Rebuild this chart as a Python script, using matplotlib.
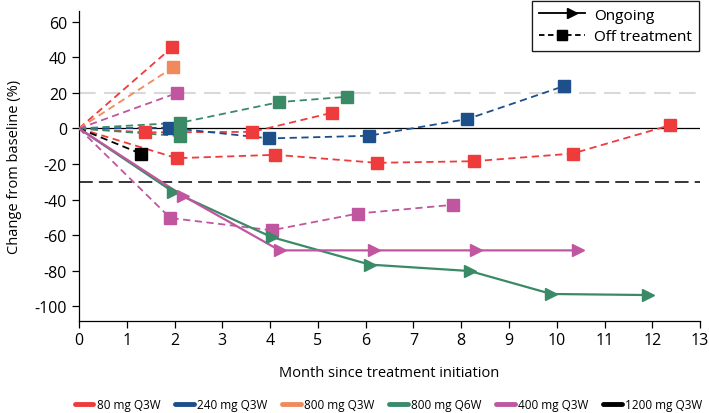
import numpy as np
from matplotlib import pyplot as plt
from matplotlib.lines import Line2D
from matplotlib.legend_handler import HandlerLine2D

plt.rcParams['font.family'] = ['Open Sans', 'DejaVu Sans']

# colours per dose group
colors = {
    '80 mg Q3W': '#EE3B3B',
    '240 mg Q3W': '#1D4F8B',
    '800 mg Q3W': '#F08A5D',
    '800 mg Q6W': '#3A8A68',
    '400 mg Q3W': '#C0569F',
    '1200 mg Q3W': '#000000',
}

# off-treatment patients (dashed, square at last point)
off_80a_x = [0, 1.95]
off_80a_y = [0, 45.6]
off_80b_x = [0, 1.39, 3.63, 5.29]
off_80b_y = [0, -2.2, -1.9, 8.8]
off_80c_x = [0, 2.05, 4.11, 6.23, 8.26, 10.33, 12.38]
off_80c_y = [0, -16.7, -14.8, -19.3, -18.4, -14.1, 1.9]
off_240_x = [0, 1.88, 3.98, 6.06, 8.13, 10.15]
off_240_y = [0, 0.4, -5.6, -4.1, 5.3, 23.8]
off_800q3_x = [0, 1.97]
off_800q3_y = [0, 34.3]
off_800q6a_x = [0, 2.12, 4.19, 5.6]
off_800q6a_y = [0, 3.2, 14.8, 17.8]
off_800q6b_x = [0, 2.12]
off_800q6b_y = [0, -4.3]
off_400a_x = [0, 2.05]
off_400a_y = [0, 19.9]
off_400b_x = [0, 1.91, 4.03, 5.84, 7.83]
off_400b_y = [0, -50.3, -57.2, -47.8, -42.9]
off_1200_x = [0, 1.29]
off_1200_y = [0, -14.1]

# ongoing patients (solid, arrows)
on_800q6_x = [0, 1.97, 4.03, 6.09, 8.18, 9.89, 11.91]
on_800q6_y = [0, -35.6, -61.0, -76.5, -80.1, -93.0, -93.6]
on_400_x = [0, 2.18, 4.2, 6.17, 8.3, 10.45]
on_400_y = [0, -37.9, -68.5, -68.5, -68.5, -68.5]

off_series = [
    (off_80a_x, off_80a_y, '80 mg Q3W'),
    (off_80b_x, off_80b_y, '80 mg Q3W'),
    (off_80c_x, off_80c_y, '80 mg Q3W'),
    (off_240_x, off_240_y, '240 mg Q3W'),
    (off_800q3_x, off_800q3_y, '800 mg Q3W'),
    (off_800q6a_x, off_800q6a_y, '800 mg Q6W'),
    (off_800q6b_x, off_800q6b_y, '800 mg Q6W'),
    (off_400a_x, off_400a_y, '400 mg Q3W'),
    (off_400b_x, off_400b_y, '400 mg Q3W'),
    (off_1200_x, off_1200_y, '1200 mg Q3W'),
]
on_series = [
    (on_800q6_x, on_800q6_y, '800 mg Q6W'),
    (on_400_x, on_400_y, '400 mg Q3W'),
]


class ArrowEndHandler(HandlerLine2D):
    # legend handle with the triangle near the right end of the line
    def create_artists(self, legend, orig_handle, xdescent, ydescent,
                       width, height, fontsize, trans):
        y = height / 2 - ydescent
        line = Line2D([-xdescent, width - xdescent], [y, y], color='black', lw=1.3)
        tip = Line2D([width * 0.72 - xdescent], [y], ls='none', marker='>',
                     ms=7, color='black')
        line.set_transform(trans)
        tip.set_transform(trans)
        return [line, tip]


fig = plt.figure(figsize=(7.09, 4.14), dpi=100)
ax = fig.add_axes([0.1114, 0.223, 0.876, 0.748])

# reference lines
ax.axhline(20, color='#D9D9D9', lw=1.5, dashes=(8, 4), zorder=1)
ax.axhline(0, color='black', lw=0.9, zorder=1)
ax.axhline(-30, color='black', lw=1.1, dashes=(9, 4), zorder=1)

for x, y, grp in off_series:
    c = colors[grp]
    ax.plot(x, y, color=c, lw=1.3, dashes=(4, 2.5), zorder=3)
    ax.plot(x[1:], y[1:], ls='none', marker='s', ms=8, color=c, zorder=4)

for x, y, grp in on_series:
    c = colors[grp]
    ax.plot(x, y, color=c, lw=1.6, zorder=3)
    ax.plot(x[1:], y[1:], ls='none', marker='>', ms=8, color=c, zorder=4)

ax.set_xlim(0, 13)
ax.set_ylim(-108, 66)
ax.set_xticks(np.arange(0, 14, 1))
ax.set_yticks(np.arange(-100, 61, 20))
ax.set_yticklabels([str(v) for v in range(-100, 61, 20)])
ax.spines['top'].set_visible(False)
ax.spines['right'].set_visible(False)
ax.spines['left'].set_linewidth(0.9)
ax.spines['bottom'].set_linewidth(0.9)
ax.tick_params(axis='both', labelsize=11.5, length=5, width=0.9, direction='out')
ax.set_xlabel('Month since treatment initiation', fontsize=10.5, labelpad=12)
ax.set_ylabel('Change from baseline (%)', fontsize=10.5, labelpad=9)

# status legend (top right)
h_on = Line2D([], [], color='black', lw=1.3, marker='>', ms=7)
h_off = Line2D([], [], color='black', lw=1.3, dashes=(3, 2), marker='s', ms=7)
leg1 = ax.legend([h_on, h_off], ['Ongoing', 'Off treatment'], loc='upper right',
                 bbox_to_anchor=(1.01, 1.058), fontsize=11, frameon=True,
                 fancybox=False, edgecolor='black', handlelength=3.0,
                 handletextpad=0.6, borderpad=0.45, labelspacing=0.45,
                 numpoints=1, handler_map={h_on: ArrowEndHandler()})
leg1.get_frame().set_linewidth(0.9)
ax.add_artist(leg1)

# dose legend (bottom)
dose_handles = [Line2D([], [], color=colors[g], lw=3.5, solid_capstyle='round')
                for g in colors]
fig.legend(dose_handles, list(colors.keys()), loc='lower center',
           bbox_to_anchor=(0.548, -0.022), ncol=6, fontsize=8.5, frameon=False,
           handlelength=1.6, handletextpad=0.3, columnspacing=1.2)

fig.savefig('out.png', dpi=100)
